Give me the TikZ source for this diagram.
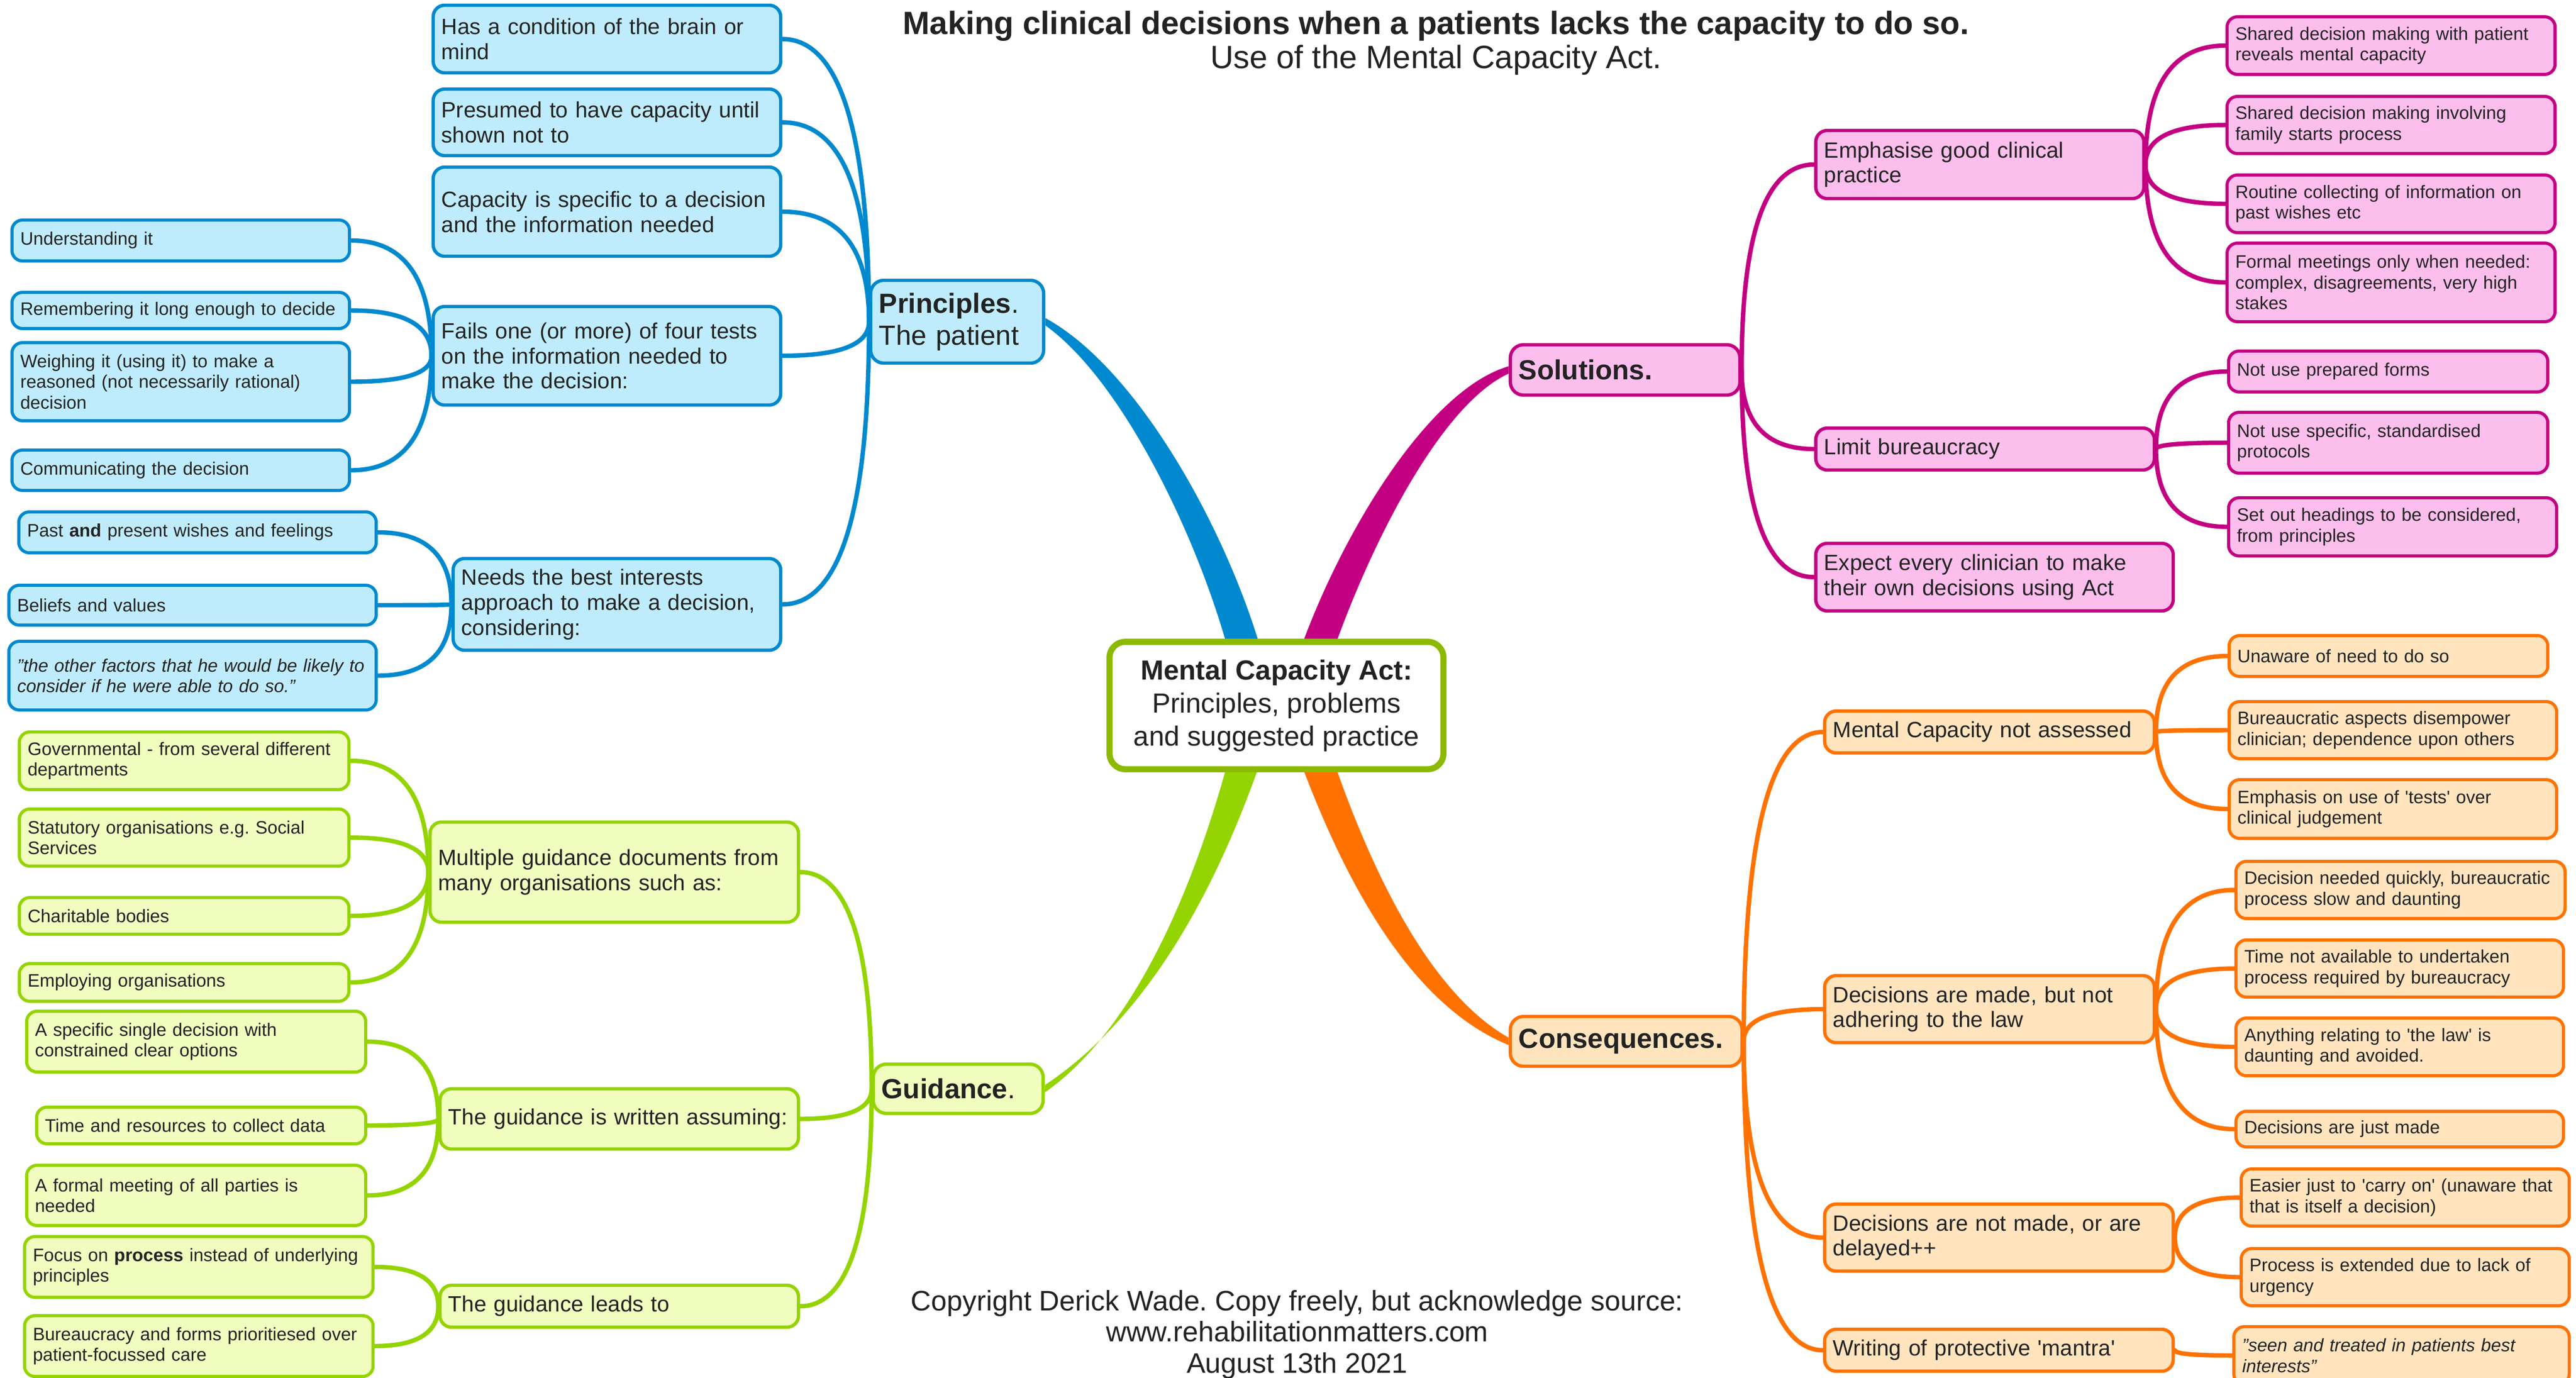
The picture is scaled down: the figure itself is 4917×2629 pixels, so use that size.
\documentclass[tikz,border=0pt]{standalone}
\usepackage{fontspec}
\setmainfont{Liberation Sans}
\usepackage{xcolor}
\usetikzlibrary{calc}
\usetikzlibrary{backgrounds}
\definecolor{blueline}{RGB}{0,137,207}
\definecolor{bluefill}{RGB}{191,236,252}
\definecolor{pinkline}{RGB}{196,0,130}
\definecolor{pinkfill}{RGB}{252,190,236}
\definecolor{orangeline}{RGB}{255,114,0}
\definecolor{orangefill}{RGB}{255,228,190}
\definecolor{greenline}{RGB}{148,212,0}
\definecolor{greenfill}{RGB}{241,253,190}
\definecolor{rootline}{RGB}{140,186,0}
\definecolor{ink}{RGB}{34,34,34}
\frenchspacing

\begin{document}
\begin{tikzpicture}[x=0.01cm, y=-0.01cm,
    mainnode/.style={draw=#1line, fill=#1fill, line width=1.8pt, rounded corners=0.25cm, text=ink, align=left, inner xsep=0.16cm, inner ysep=0.05cm, font=\fontsize{15}{17.3}\selectfont},
    subnode/.style={draw=#1line, fill=#1fill, line width=1.8pt, rounded corners=0.22cm, text=ink, align=left, inner xsep=0.16cm, inner ysep=0.05cm, font=\fontsize{12}{13.6}\selectfont},
    leafnode/.style={draw=#1line, fill=#1fill, line width=1.7pt, rounded corners=0.2cm, text=ink, align=left, inner xsep=0.16cm, inner ysep=0.05cm, font=\fontsize{9.8}{11.2}\selectfont},
    twig/.style={draw=#1line, line width=2.4pt, line cap=round, to path={.. controls ($(\tikztostart)!0.667!(\tikztostart |- \tikztotarget)$) and ($(\tikztotarget)!0.667!(\tikztostart |- \tikztotarget)$) .. (\tikztotarget)}}]
    \useasboundingbox (0,0) rectangle (4917,2629);

    \node[font=\fontsize{17.5}{18.5}\selectfont, text=ink, align=center] (title) at (2741,82) {\textbf{Making clinical decisions when a patients lacks the capacity to do so.}\\Use of the Mental Capacity Act.};
    \node[font=\fontsize{15.3}{16.8}\selectfont, text=ink, align=center] (footer) at (2476,2547) {Copyright Derick Wade. Copy freely, but acknowledge source:\\www.rehabilitationmatters.com\\August 13th 2021};

    \node[draw=rootline, fill=white, line width=3.3pt, rounded corners=0.3cm, text=ink, align=center, minimum width=6.37cm, minimum height=2.43cm, font=\fontsize{15}{17.9}\selectfont] (mca) at (2436.5,1346.5) {\textbf{Mental Capacity Act:}\\Principles, problems\\and suggested practice};

    \node[mainnode=blue, text width=2.98cm, minimum height=1.58cm] (principles) at (1827,614) {\textbf{Principles}.\\The patient};
    \node[mainnode=pink, text width=4.06cm, minimum height=0.96cm] (solutions) at (3102,706) {\textbf{Solutions.}};
    \node[mainnode=orange, text width=4.10cm, minimum height=0.95cm] (consequences) at (3104,1987.5) {\textbf{Consequences.}};
    \node[mainnode=green, text width=2.92cm, minimum height=0.94cm] (guidance) at (1829,2078) {\textbf{Guidance}.};

    \node[subnode=blue, text width=6.31cm, minimum height=1.29cm] (brain) at (1158.5,74.5) {Has a condition of the brain or\\mind};
    \node[subnode=blue, text width=6.31cm, minimum height=1.27cm] (presumed) at (1158.5,233.5) {Presumed to have capacity until\\shown not to};
    \node[subnode=blue, text width=6.31cm, minimum height=1.70cm] (specific) at (1158.5,404) {Capacity is specific to a decision\\and the information needed};
    \node[subnode=blue, text width=6.31cm, minimum height=1.88cm] (fails) at (1158.5,679) {Fails one (or more) of four tests\\on the information needed to\\make the decision:};
    \node[subnode=blue, text width=5.93cm, minimum height=1.75cm] (needs) at (1177.5,1153.5) {Needs the best interests\\approach to make a decision,\\considering:};

    \node[leafnode=blue, text width=6.12cm, minimum height=0.78cm] (understand) at (345,459) {Understanding it};
    \node[leafnode=blue, text width=6.12cm, minimum height=0.69cm] (remember) at (345,592.5) {Remembering it long enough to decide};
    \node[leafnode=blue, text width=6.12cm, minimum height=1.49cm] (weigh) at (345,728.5) {Weighing it (using it) to make a\\reasoned (not necessarily rational)\\decision};
    \node[leafnode=blue, text width=6.12cm, minimum height=0.77cm] (communicate) at (345,897.5) {Communicating the decision};
    \node[leafnode=blue, text width=6.50cm, minimum height=0.78cm] (wishes) at (377,1016) {Past \textbf{and} present wishes and feelings};
    \node[leafnode=blue, text width=6.69cm, minimum height=0.76cm] (beliefs) at (367.5,1155) {Beliefs and values};
    \node[leafnode=blue, text width=6.69cm, minimum height=1.31cm] (factors) at (367.5,1289.5) {\itshape "the other factors that he would be likely to\\consider if he were able to do so."};

    \node[subnode=pink, text width=5.94cm, minimum height=1.30cm] (emphasise) at (3779,314) {Emphasise good clinical\\practice};
    \node[subnode=pink, text width=6.14cm, minimum height=0.80cm] (limit) at (3789,857) {Limit bureaucracy};
    \node[subnode=pink, text width=6.50cm, minimum height=1.29cm] (expect) at (3807,1101.5) {Expect every clinician to make\\their own decisions using Act};

    \node[leafnode=pink, text width=5.94cm, minimum height=1.10cm] (sharedpatient) at (4564,87) {Shared decision making with patient\\reveals mental capacity};
    \node[leafnode=pink, text width=5.94cm, minimum height=1.09cm] (sharedfamily) at (4564,238.5) {Shared decision making involving\\family starts process};
    \node[leafnode=pink, text width=5.94cm, minimum height=1.10cm] (routine) at (4564,389) {Routine collecting of information on\\past wishes etc};
    \node[leafnode=pink, text width=5.94cm, minimum height=1.50cm] (formal) at (4564,539) {Formal meetings only when needed:\\complex, disagreements, very high\\stakes};
    \node[leafnode=pink, text width=5.77cm, minimum height=0.78cm] (forms) at (4558.5,709) {Not use prepared forms};
    \node[leafnode=pink, text width=5.77cm, minimum height=1.16cm] (protocols) at (4558.5,845) {Not use specific, standardised\\protocols};
    \node[leafnode=pink, text width=5.94cm, minimum height=1.11cm] (headings) at (4567,1005.5) {Set out headings to be considered,\\from principles};

    \node[subnode=orange, text width=5.97cm, minimum height=0.80cm] (notassessed) at (3797.5,1397) {Mental Capacity not assessed};
    \node[subnode=orange, text width=5.97cm, minimum height=1.28cm] (madenotlaw) at (3797.5,1926) {Decisions are made, but not\\adhering to the law};
    \node[subnode=orange, text width=6.33cm, minimum height=1.28cm] (notmade) at (3815.5,2362) {Decisions are not made, or are\\delayed++};
    \node[subnode=orange, text width=6.33cm, minimum height=0.80cm] (mantra) at (3815.5,2577) {Writing of protective \textquotesingle mantra\textquotesingle};

    \node[leafnode=orange, text width=5.76cm, minimum height=0.78cm] (unaware) at (4559,1252) {Unaware of need to do so};
    \node[leafnode=orange, text width=5.93cm, minimum height=1.09cm] (disempower) at (4567.5,1393.5) {Bureaucratic aspects disempower\\clinician; dependence upon others};
    \node[leafnode=orange, text width=5.93cm, minimum height=1.12cm] (tests) at (4567.5,1544) {Emphasis on use of \textquotesingle tests\textquotesingle{} over\\clinical judgement};
    \node[leafnode=orange, text width=5.96cm, minimum height=1.09cm] (quickly) at (4582,1698.5) {Decision needed quickly, bureaucratic\\process slow and daunting};
    \node[leafnode=orange, text width=5.93cm, minimum height=1.09cm] (timenot) at (4580.5,1848.5) {Time not available to undertaken\\process required by bureaucracy};
    \node[leafnode=orange, text width=5.93cm, minimum height=1.10cm] (thelaw) at (4580.5,1998) {Anything relating to \textquotesingle the law\textquotesingle{} is\\daunting and avoided.};
    \node[leafnode=orange, text width=5.93cm, minimum height=0.68cm] (justmade) at (4580.5,2155) {Decisions are just made};
    \node[leafnode=orange, text width=5.94cm, minimum height=1.09cm] (carryon) at (4591,2285.5) {Easier just to \textquotesingle carry on\textquotesingle{} (unaware that\\that is itself a decision)};
    \node[leafnode=orange, text width=5.94cm, minimum height=1.09cm] (extended) at (4591,2437.5) {Process is extended due to lack of\\urgency};
    \node[leafnode=orange, text width=6.08cm, minimum height=1.10cm] (seen) at (4584,2587) {\itshape "seen and treated in patients best\\interests"};

    \node[subnode=green, text width=6.71cm, minimum height=1.91cm] (multiple) at (1172.5,1664.5) {Multiple guidance documents from\\many organisations such as:};
    \node[subnode=green, text width=6.52cm, minimum height=1.15cm] (assuming) at (1182,2135.5) {The guidance is written assuming:};
    \node[subnode=green, text width=6.52cm, minimum height=0.80cm] (leadsto) at (1182,2493) {The guidance leads to};

    \node[leafnode=green, text width=5.97cm, minimum height=1.10cm] (governmental) at (351.5,1452) {Governmental - from several different\\departments};
    \node[leafnode=green, text width=5.97cm, minimum height=1.09cm] (statutory) at (351.5,1598.5) {Statutory organisations e.g. Social\\Services};
    \node[leafnode=green, text width=5.97cm, minimum height=0.70cm] (charitable) at (351.5,1748) {Charitable bodies};
    \node[leafnode=green, text width=5.97cm, minimum height=0.72cm] (employing) at (351.5,1875) {Employing organisations};
    \node[leafnode=green, text width=6.15cm, minimum height=1.16cm] (singledecision) at (374.5,1988) {A specific single decision with\\constrained clear options};
    \node[leafnode=green, text width=5.96cm, minimum height=0.70cm] (timeres) at (384,2148) {Time and resources to collect data};
    \node[leafnode=green, text width=6.15cm, minimum height=1.15cm] (formalmeeting) at (374.5,2281.5) {A formal meeting of all parties is\\needed};
    \node[leafnode=green, text width=6.33cm, minimum height=1.16cm] (focus) at (379.5,2418) {Focus on \textbf{process} instead of underlying\\principles};
    \node[leafnode=green, text width=6.33cm, minimum height=1.16cm] (bureaucracy) at (379.5,2569) {Bureaucracy and forms prioritiesed over\\patient-focussed care};

    \begin{scope}[on background layer]
    \fill[blueline] ($(mca.north)+(-90,30)$) .. controls (2290,1035) and (2145,728) .. ($(principles.east)+(0,7)$) -- ($(principles.east)+(0,-7)$) .. controls (2175,705) and (2345,1020) .. ($(mca.north)+(-27,30)$) -- cycle;
    \fill[pinkline] ($(mca.north)+(42,30)$) .. controls (2555,1030) and (2722,745) .. ($(solutions.west)+(0,-7)$) -- ($(solutions.west)+(0,7)$) .. controls (2750,772) and (2615,1040) .. ($(mca.north)+(106,30)$) -- cycle;
    \fill[orangeline] ($(mca.south)+(42,-30)$) .. controls (2560,1665) and (2685,1915) .. ($(consequences.west)+(0,7)$) -- ($(consequences.west)+(0,-7)$) .. controls (2720,1890) and (2610,1640) .. ($(mca.south)+(106,-30)$) -- cycle;
    \fill[greenline] ($(mca.south)+(-27,-30)$) .. controls (2340,1645) and (2215,1925) .. ($(guidance.east)+(0,-7)$) -- ($(guidance.east)+(0,7)$) .. controls (2180,1955) and (2290,1655) .. ($(mca.south)+(-90,-30)$) -- cycle;

    \draw[twig=blue] (principles.west) to (brain.east);
    \draw[twig=blue] (principles.west) to (presumed.east);
    \draw[twig=blue] (principles.west) to (specific.east);
    \draw[twig=blue] (principles.west) to (fails.east);
    \draw[twig=blue] (principles.west) to (needs.east);
    \draw[twig=blue] (fails.west) to (understand.east);
    \draw[twig=blue] (fails.west) to (remember.east);
    \draw[twig=blue] (fails.west) to (weigh.east);
    \draw[twig=blue] (fails.west) to (communicate.east);
    \draw[twig=blue] (needs.west) to (wishes.east);
    \draw[twig=blue] (needs.west) to (beliefs.east);
    \draw[twig=blue] (needs.west) to (factors.east);

    \draw[twig=pink] (solutions.east) to (emphasise.west);
    \draw[twig=pink] (solutions.east) to (limit.west);
    \draw[twig=pink] (solutions.east) to (expect.west);
    \draw[twig=pink] (emphasise.east) to (sharedpatient.west);
    \draw[twig=pink] (emphasise.east) to (sharedfamily.west);
    \draw[twig=pink] (emphasise.east) to (routine.west);
    \draw[twig=pink] (emphasise.east) to (formal.west);
    \draw[twig=pink] (limit.east) to (forms.west);
    \draw[twig=pink] (limit.east) to (protocols.west);
    \draw[twig=pink] (limit.east) to (headings.west);

    \draw[twig=orange] (consequences.east) to (notassessed.west);
    \draw[twig=orange] (consequences.east) to (madenotlaw.west);
    \draw[twig=orange] (consequences.east) to (notmade.west);
    \draw[twig=orange] (consequences.east) to (mantra.west);
    \draw[twig=orange] (notassessed.east) to (unaware.west);
    \draw[twig=orange] (notassessed.east) to (disempower.west);
    \draw[twig=orange] (notassessed.east) to (tests.west);
    \draw[twig=orange] (madenotlaw.east) to (quickly.west);
    \draw[twig=orange] (madenotlaw.east) to (timenot.west);
    \draw[twig=orange] (madenotlaw.east) to (thelaw.west);
    \draw[twig=orange] (madenotlaw.east) to (justmade.west);
    \draw[twig=orange] (notmade.east) to (carryon.west);
    \draw[twig=orange] (notmade.east) to (extended.west);
    \draw[twig=orange] (mantra.east) to (seen.west);

    \draw[twig=green] (guidance.west) to (multiple.east);
    \draw[twig=green] (guidance.west) to (assuming.east);
    \draw[twig=green] (guidance.west) to (leadsto.east);
    \draw[twig=green] (multiple.west) to (governmental.east);
    \draw[twig=green] (multiple.west) to (statutory.east);
    \draw[twig=green] (multiple.west) to (charitable.east);
    \draw[twig=green] (multiple.west) to (employing.east);
    \draw[twig=green] (assuming.west) to (singledecision.east);
    \draw[twig=green] (assuming.west) to (timeres.east);
    \draw[twig=green] (assuming.west) to (formalmeeting.east);
    \draw[twig=green] (leadsto.west) to (focus.east);
    \draw[twig=green] (leadsto.west) to (bureaucracy.east);
    \end{scope}
\end{tikzpicture}
\end{document}
